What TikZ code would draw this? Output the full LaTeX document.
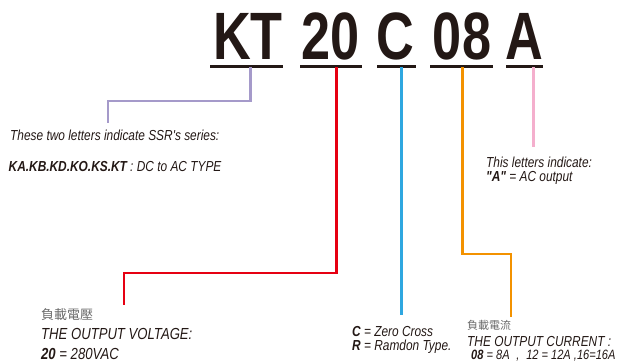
\documentclass[tikz,border=0pt]{standalone}
\usepackage{fontspec}
\setmainfont{Liberation Sans}
\newfontfamily\cond{Liberation Sans}[FakeStretch=0.82]
\newfontfamily\bigfont{Liberation Sans}[FakeStretch=0.78]
\newfontfamily\cjk{Noto Sans CJK TC}
\definecolor{ink}{HTML}{231815}
\definecolor{lav}{HTML}{A59ACA}
\definecolor{redl}{HTML}{E60012}
\definecolor{bluel}{HTML}{2EA7E0}
\definecolor{orangel}{HTML}{F39200}
\definecolor{pinkl}{HTML}{F4AFCD}
\definecolor{cjkgray}{HTML}{6A6A6A}
\begin{document}
\begin{tikzpicture}[x=1pt,y=-1pt,
  txt/.style={anchor=base west, inner sep=0pt, text=ink, font=\cond\itshape\fontsize{14.5}{17}\selectfont},
  txtl/.style={txt, font=\cond\itshape\fontsize{16}{19}\selectfont},
  big/.style={anchor=base, inner sep=0pt, text=ink, font=\bigfont\bfseries\fontsize{67}{67}\selectfont},
  ul/.style={line width=2.8pt, draw=ink},
  conn/.style={line width=2.7pt},
  cjkt/.style={anchor=base west, inner sep=0pt, text=cjkgray, font=\cjk\fontsize{13}{15}\selectfont}]
\useasboundingbox (0,0) rectangle (620,363);

% code letters
\node[big] (kt) at (248,60) {KT};
\node[big] (n20) at (330.5,60) {20};
\node[big] (cc) at (395.5,60) {C};
\node[big] (n08) at (462,60) {08};
\node[big] (aa) at (524.5,60) {A};

% underlines
\draw[ul] (210,66.5) -- (283,66.5);
\draw[ul] (300,66.5) -- (362,66.5);
\draw[ul] (377,66.5) -- (416,66.5);
\draw[ul] (430,66.5) -- (493,66.5);
\draw[ul] (506,66.5) -- (543,66.5);

% connector anchor coordinates
\coordinate (pa) at (250.7,67.5);
\coordinate (pk) at (108,101);
\coordinate (pb) at (108,123);
\coordinate (ra) at (336.7,67.5);
\coordinate (rk) at (124,273);
\coordinate (rb) at (124,305);
\coordinate (ba) at (401.5,67.5);
\coordinate (bb) at (401.5,315);
\coordinate (oa) at (462.7,67.5);
\coordinate (ok) at (511,254);
\coordinate (ob) at (511,317);
\coordinate (ka) at (533.3,67.5);
\coordinate (kb) at (533.3,147);

\draw[conn, draw=lav] (pa) |- (pk) -- (pb);
\draw[conn, draw=redl] (ra) |- (rk) -- (rb);
\draw[conn, draw=bluel] (ba) -- (bb);
\draw[conn, draw=orangel] (oa) |- (ok) -- (ob);
\draw[conn, draw=pinkl] (ka) -- (kb);

% texts
\node[txt] (t1) at (10,141) {These two letters indicate SSR's series:};
\node[txt] (t2) at (8.5,171.5) {\textbf{KA.KB.KD.KO.KS.KT} : DC to AC TYPE};
\node[txt] (t3) at (486,167.5) {This letters indicate:};
\node[txt] (t4) at (486,182) {\textbf{"A"} = AC output};

\node[cjkt] (v0) at (41,319) {負載電壓};
\node[txtl] (v1) at (41,339.5) {THE OUTPUT VOLTAGE:};
\node[txtl] (v2) at (41,359) {\textbf{20} = 280VAC};

\node[txt] (c1) at (352,336) {\textbf{C} = Zero Cross};
\node[txt] (c2) at (352,350) {\textbf{R} = Ramdon Type.};

\node[cjkt, font=\cjk\fontsize{11}{13}\selectfont] (i0) at (467,329.5) {負載電流};
\node[txt] (i1) at (467,346.5) {THE OUTPUT CURRENT :};
\node[txt, font=\cond\itshape\fontsize{13.5}{16}\selectfont] (i2) at (471,359.5) {\textbf{08} = 8A\enspace,\enspace 12 = 12A ,16=16A};
\end{tikzpicture}
\end{document}
